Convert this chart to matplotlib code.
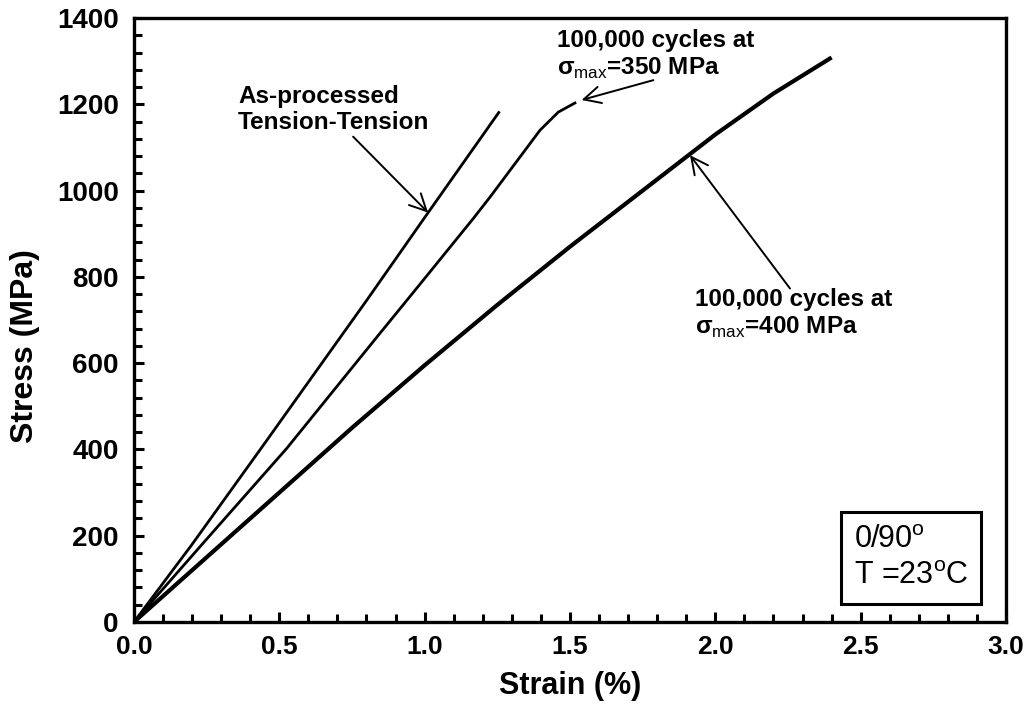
import matplotlib
matplotlib.use("Agg")
import matplotlib.pyplot as plt
from matplotlib.ticker import MultipleLocator, FormatStrFormatter

plt.rcParams['font.family'] = ['Liberation Sans', 'DejaVu Sans']
plt.rcParams['mathtext.fontset'] = 'custom'
plt.rcParams['mathtext.rm'] = 'Liberation Sans'
plt.rcParams['mathtext.bf'] = 'Liberation Sans:bold'

# Stress-strain curves (strain in %, stress in MPa)
strain_asproc = [0.0, 0.20, 0.44, 0.80, 1.01, 1.255]
stress_asproc = [0, 180, 405, 745, 947, 1181]

strain_350 = [0.0, 0.25, 0.525, 0.846, 0.984, 1.167, 1.225, 1.397, 1.46, 1.517]
stress_350 = [0, 192, 402, 669, 783, 935, 985, 1140, 1182, 1203]

strain_400 = [0.0, 0.25, 0.50, 0.75, 1.00, 1.25, 1.50, 1.75, 2.00, 2.20, 2.394]
stress_400 = [0, 150, 300, 450, 595, 735, 870, 1000, 1130, 1225, 1306]

fig = plt.figure(figsize=(10.32, 7.21), dpi=100)
ax = fig.add_axes([0.1298, 0.1373, 0.845, 0.8377])

ax.plot(strain_asproc, stress_asproc, color='black', lw=2.0)
ax.plot(strain_350, stress_350, color='black', lw=2.0)
ax.plot(strain_400, stress_400, color='black', lw=3.0)

ax.set_xlim(0, 3.0)
ax.set_ylim(0, 1400)
ax.xaxis.set_major_locator(MultipleLocator(0.5))
ax.xaxis.set_minor_locator(MultipleLocator(0.1))
ax.yaxis.set_major_locator(MultipleLocator(200))
ax.yaxis.set_minor_locator(MultipleLocator(40))
ax.xaxis.set_major_formatter(FormatStrFormatter('%.1f'))

ax.tick_params(which='both', direction='in', width=2.2, top=False, right=False)
ax.tick_params(which='major', length=7.5)
ax.tick_params(which='minor', length=5.5)
ax.tick_params(axis='x', which='major', pad=9, labelsize=19)
ax.tick_params(axis='y', which='major', pad=11, labelsize=20)
for lab in ax.get_xticklabels() + ax.get_yticklabels():
    lab.set_fontweight('bold')
for sp in ax.spines.values():
    sp.set_linewidth(2.4)

ax.set_xlabel('Strain (%)', fontsize=22, fontweight='bold', labelpad=9)
ax.set_ylabel('Stress (MPa)', fontsize=23, fontweight='bold')
ax.yaxis.set_label_coords(-0.108, 0.457)

arrow = dict(arrowstyle='->,head_length=0.6,head_width=0.3', color='black', lw=1.4,
             mutation_scale=20, shrinkA=0, shrinkB=0)

ax.text(0.358, 1245, 'As-processed\nTension-Tension', fontsize=17.5, fontweight='bold',
        ha='left', va='top')
ax.annotate('', xy=(1.012, 949), xytext=(0.754, 1125), arrowprops=arrow)

ax.text(1.455, 1375, '100,000 cycles at\n\u03c3$_\\mathrm{max}$=350 MPa', fontsize=17.5,
        fontweight='bold', ha='left', va='top')
ax.annotate('', xy=(1.540, 1210), xytext=(1.787, 1256), arrowprops=arrow)

ax.text(1.930, 774, '100,000 cycles at\n\u03c3$_\\mathrm{max}$=400 MPa', fontsize=17.5,
        fontweight='bold', ha='left', va='top')
ax.annotate('', xy=(1.913, 1082), xytext=(2.257, 773), arrowprops=arrow)

ax.text(0.891, 0.106, '0/90$^\\mathrm{o}$\nT =23$^\\mathrm{o}$C', transform=ax.transAxes,
        fontsize=22, ha='center', va='center', multialignment='left', linespacing=1.3,
        bbox=dict(boxstyle='square,pad=0.42', fc='white', ec='black', lw=2.2))

fig.savefig('out.png', dpi=100)
